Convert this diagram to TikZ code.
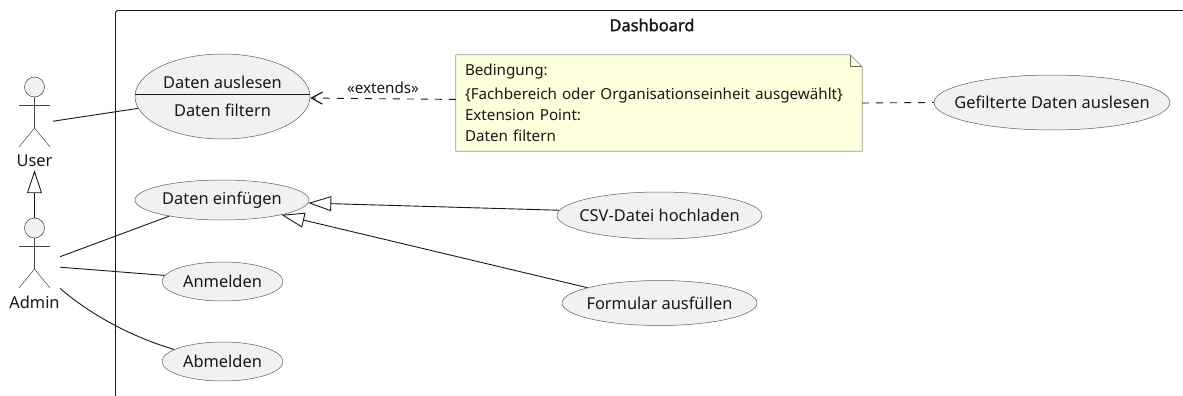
\documentclass[tikz,border=0pt]{standalone}
\usepackage{fontspec}
\setmainfont{Noto Sans}
\newfontfamily\titlefont[FakeBold=1.6]{Noto Sans}
\usetikzlibrary{arrows.meta,calc,shapes.geometric}
\definecolor{ucfill}{HTML}{F1F1F1}
\definecolor{ink}{HTML}{181818}
\definecolor{notefill}{HTML}{FEFFDD}
\definecolor{noteline}{HTML}{9A9A8A}
\newcommand{\uctext}[2][-1.8pt]{\raisebox{#1}{\makebox[0pt]{#2}}}
\tikzset{
  every node/.style={font=\fontsize{16.4}{20}\selectfont,text=ink},
  usecase/.style={ellipse,draw=ink!70,line width=0.5pt,fill=ucfill,inner sep=0pt,align=center},
  link/.style={draw=ink,line width=0.9pt},
  depend/.style={draw=ink,line width=0.9pt,dash pattern=on 7pt off 7pt},
  general/.style={link,-{Triangle[open,length=23pt,width=15pt,fill=white]}},
  actorbox/.style={rectangle,inner sep=0pt,minimum height=93pt},
  stick/.style={draw=ink!80,line width=0.5pt},
  actorfig/.pic={
    \draw[stick,fill=ucfill] (0,-10) circle (10);
    \draw[stick] (0,0) -- (0,31);
    \draw[stick] (-15.5,8.5) -- (15.5,8.5);
    \draw[stick] (-15.5,50) -- (0,31) -- (15.5,50);
  }
}
\begin{document}
\begin{tikzpicture}[x=1pt,y=-1pt]
\useasboundingbox (0,0) rectangle (1183,396);
\fill[white] (0,0) rectangle (1183,396);
% frame
\draw[draw=ink,line width=0.9pt,rounded corners=2.5pt] (115.5,396) -- (115.5,10.5) -- (1190,10.5);
\node[font=\fontsize{16.4}{20}\selectfont\titlefont] (title) at (652,25) {Dashboard};
% actors
\node[actorbox,minimum width=37pt] (user) at (34.5,123.5) {};
\node[actorbox,minimum width=51pt] (admin) at (34.5,264.5) {};
\pic at (34.5,97) {actorfig};
\pic at (34.5,238) {actorfig};
\node (userlabel) at (34.5,161) {User};
\node (adminlabel) at (34.5,302) {Admin};
% use cases
\node[usecase,minimum width=175pt,minimum height=85pt,font=\fontsize{16.4}{28}\selectfont] (read) at (222.5,96.5) {\uctext[-0.5pt]{Daten auslesen}\\\uctext[-0.5pt]{Daten filtern}};
\draw[draw=ink,line width=0.9pt] ($(read.west)+(0,-2.5)$) -- ($(read.east)+(0,-2.5)$);
\node[usecase,minimum width=174pt,minimum height=40pt] (insert) at (222,200) {\uctext{Daten einfügen}};
\node[usecase,minimum width=121pt,minimum height=39pt] (login) at (222.5,281.5) {\uctext{Anmelden}};
\node[usecase,minimum width=121pt,minimum height=39pt] (logout) at (222.5,361.5) {\uctext{Abmelden}};
\node[usecase,minimum width=205pt,minimum height=47pt] (csv) at (659.5,215.5) {\uctext{CSV-Datei hochladen}};
\node[usecase,minimum width=195pt,minimum height=45pt] (form) at (659.5,303) {\uctext{Formular ausfüllen}};
\node[usecase,minimum width=236pt,minimum height=55pt] (filtered) at (1052,102.5) {\uctext{Gefilterte Daten auslesen}};
% note
\node[rectangle,fill=notefill,inner sep=0pt,minimum width=406pt,minimum height=96pt,text width=388pt,align=left,font=\fontsize{15.2}{21.4}\selectfont] (note) at (659,103)
  {\vspace*{3pt}Bedingung:\\[-1pt]\{Fachbereich oder Organisationseinheit ausgewählt\}\\Extension Point:\\Daten filtern};
\fill[white] ($(note.north east)+(-12.5,-0.5)$) -- ($(note.north east)+(0.5,12.5)$) -- ($(note.north east)+(0.5,-0.5)$) -- cycle;
\draw[draw=noteline,line width=0.7pt,line join=bevel] (note.north west) -- ($(note.north east)+(-12,0)$) -- ($(note.north east)+(0,12)$) -- (note.south east) -- (note.south west) -- cycle;
\draw[draw=noteline!70!black,line width=0.7pt] ($(note.north east)+(-12,0)$) -- ($(note.north east)+(-12,12)$) -- ($(note.north east)+(0,12)$);
% connectors
\draw[link] (user.7.7) -- (read.188.3);
\draw[general] (admin.north) -- (user.south);
\draw[link] (admin.17.4) -- (insert.197.4);
\draw[link] (admin.-6.7) -- (login.174.5);
\draw[link] (admin.-43.3) .. controls (85,310) and (125,335) .. (logout.166.4);
\draw[depend,-{Straight Barb[length=11pt,width=12pt,line width=1.2pt,sep=0pt]}] (note.179.15) -- node[above=1pt,pos=0.5,font=\fontsize{15.2}{18}\selectfont] (extlabel) {«extends»} (read.-1.6);
\draw[depend] (note.east) -- (filtered.west);
\draw[general] (csv.177.8) -- (insert.-2);
\draw[general] (form.168.6) -- (insert.-14.5);
\end{tikzpicture}
\end{document}
